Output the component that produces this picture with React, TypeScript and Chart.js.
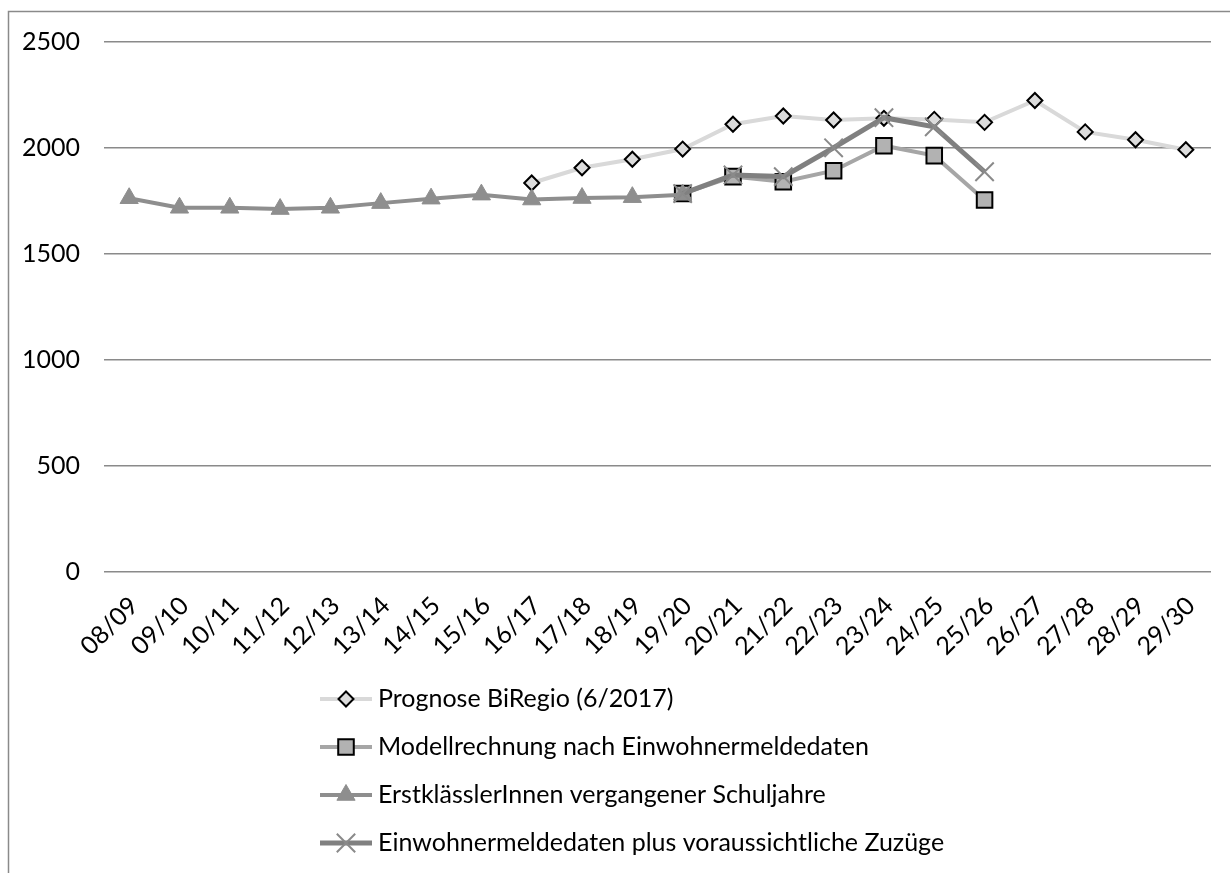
import React, { useEffect, useRef } from 'react';
import { Chart, registerables } from 'chart.js';

Chart.register(...registerables);

const schoolYears = [
  '08/09', '09/10', '10/11', '11/12', '12/13', '13/14', '14/15', '15/16', '16/17', '17/18', '18/19',
  '19/20', '20/21', '21/22', '22/23', '23/24', '24/25', '25/26', '26/27', '27/28', '28/29', '29/30',
];

const prognoseBiRegio = [
  null, null, null, null, null, null, null, null,
  1835, 1907, 1947, 1995, 2112, 2151, 2132, 2140, 2135, 2121, 2224, 2076, 2039, 1992,
];

const modellrechnung = [
  null, null, null, null, null, null, null, null, null, null, null,
  1785, 1865, 1841, 1893, 2011, 1964, 1755, null, null, null, null,
];

const erstklaessler = [
  1763, 1718, 1718, 1712, 1718, 1740, 1761, 1780, 1757, 1764, 1768, 1780,
  null, null, null, null, null, null, null, null, null, null,
];

const einwohnerPlusZuzuege = [
  null, null, null, null, null, null, null, null, null, null, null,
  1785, 1873, 1865, 2001, 2143, 2100, 1888, null, null, null, null,
];

const yTicks = [0, 500, 1000, 1500, 2000, 2500];

const seriesNames = [
  'Prognose BiRegio (6/2017)',
  'Modellrechnung nach Einwohnermeldedaten',
  'ErstklässlerInnen vergangener Schuljahre',
  'Einwohnermeldedaten plus voraussichtliche Zuzüge',
];

const FONT = 'Lato, "Open Sans", sans-serif';
const FONT_SIZE = 25;

function drawMarker(
  ctx: CanvasRenderingContext2D,
  style: string,
  x: number,
  y: number,
  r: number,
  fill: string,
  stroke: string,
  bw: number
) {
  ctx.save();
  ctx.beginPath();
  if (style === 'rectRot') {
    ctx.moveTo(x, y - r);
    ctx.lineTo(x + r, y);
    ctx.lineTo(x, y + r);
    ctx.lineTo(x - r, y);
    ctx.closePath();
  } else if (style === 'rect') {
    const s = r * Math.SQRT1_2;
    ctx.rect(x - s, y - s, 2 * s, 2 * s);
  } else if (style === 'triangle') {
    let a = 0;
    ctx.moveTo(x + Math.sin(a) * r, y - Math.cos(a) * r);
    a += (2 * Math.PI) / 3;
    ctx.lineTo(x + Math.sin(a) * r, y - Math.cos(a) * r);
    a += (2 * Math.PI) / 3;
    ctx.lineTo(x + Math.sin(a) * r, y - Math.cos(a) * r);
    ctx.closePath();
  } else if (style === 'crossRot') {
    const d = r * Math.SQRT1_2;
    ctx.moveTo(x - d, y - d);
    ctx.lineTo(x + d, y + d);
    ctx.moveTo(x - d, y + d);
    ctx.lineTo(x + d, y - d);
  }
  if (style !== 'crossRot') {
    ctx.fillStyle = fill;
    ctx.fill();
  }
  if (bw > 0) {
    ctx.lineWidth = bw;
    ctx.strokeStyle = stroke;
    ctx.stroke();
  }
  ctx.restore();
}

const framePlugin = {
  id: 'frame',
  beforeDraw(chart: any) {
    const ctx = chart.ctx as CanvasRenderingContext2D;
    ctx.save();
    ctx.fillStyle = '#ffffff';
    ctx.fillRect(0, 0, chart.width, chart.height);
    ctx.strokeStyle = '#8a8a8a';
    ctx.lineWidth = 1.5;
    ctx.beginPath();
    ctx.moveTo(8.5, chart.height + 5);
    ctx.lineTo(8.5, 11.5);
    ctx.lineTo(chart.width + 5, 11.5);
    ctx.stroke();
    ctx.restore();
  },
};

const legendPlugin = {
  id: 'seriesLegend',
  afterDraw(chart: any) {
    const ctx = chart.ctx as CanvasRenderingContext2D;
    const top = chart.chartArea.bottom + 127;
    const rowGap = 48;
    const lineStart = 320;
    const lineEnd = 372;
    const markerX = 346;
    const textX = 378;
    chart.data.datasets.forEach((ds: any, i: number) => {
      const y = top + i * rowGap;
      ctx.save();
      ctx.strokeStyle = ds.borderColor;
      ctx.lineWidth = ds.borderWidth;
      ctx.beginPath();
      ctx.moveTo(lineStart, y);
      ctx.lineTo(lineEnd, y);
      ctx.stroke();
      ctx.restore();
      drawMarker(
        ctx,
        ds.pointStyle,
        markerX,
        y,
        ds.pointRadius,
        ds.pointBackgroundColor,
        ds.pointBorderColor,
        ds.pointBorderWidth
      );
      ctx.save();
      ctx.fillStyle = '#000000';
      ctx.font = `${FONT_SIZE}px ${FONT}`;
      ctx.textAlign = 'left';
      ctx.textBaseline = 'middle';
      ctx.fillText(seriesNames[i], textX, y);
      ctx.restore();
    });
  },
};

export default function App() {
  const canvasRef = useRef<HTMLCanvasElement | null>(null);

  useEffect(() => {
    if (!canvasRef.current) return;
    Chart.defaults.font.family = FONT;
    Chart.defaults.font.size = FONT_SIZE;
    Chart.defaults.color = '#000000';

    const chart = new Chart(canvasRef.current, {
      type: 'line',
      data: {
        labels: schoolYears,
        datasets: [
          {
            label: seriesNames[0],
            data: prognoseBiRegio,
            borderColor: '#d9d9d9',
            borderWidth: 4,
            pointStyle: 'rectRot',
            pointRadius: 7.5,
            pointBackgroundColor: '#dcdcdc',
            pointBorderColor: '#000000',
            pointBorderWidth: 2,
            tension: 0,
            order: 3,
          },
          {
            label: seriesNames[1],
            data: modellrechnung,
            borderColor: '#a6a6a6',
            borderWidth: 4,
            pointStyle: 'rect',
            pointRadius: 11,
            pointBackgroundColor: '#b2b2b2',
            pointBorderColor: '#000000',
            pointBorderWidth: 2,
            tension: 0,
            order: 2,
          },
          {
            label: seriesNames[2],
            data: erstklaessler,
            borderColor: '#8e8e8e',
            borderWidth: 4,
            pointStyle: 'triangle',
            pointRadius: 10.5,
            pointBackgroundColor: '#8e8e8e',
            pointBorderColor: '#8e8e8e',
            pointBorderWidth: 1,
            tension: 0,
            order: 1,
          },
          {
            label: seriesNames[3],
            data: einwohnerPlusZuzuege,
            borderColor: '#808080',
            borderWidth: 5,
            pointStyle: 'crossRot',
            pointRadius: 13,
            pointBackgroundColor: '#8a8a8a',
            pointBorderColor: '#8a8a8a',
            pointBorderWidth: 2,
            tension: 0,
            order: 0,
          },
        ],
      },
      options: {
        animation: false,
        responsive: false,
        maintainAspectRatio: false,
        layout: { padding: { left: 0, top: 42, right: 19, bottom: 201 } },
        plugins: {
          legend: { display: false },
          tooltip: { enabled: false },
        },
        scales: {
          x: {
            type: 'category',
            offset: true,
            grid: { display: false, drawTicks: false },
            border: { display: false },
            ticks: {
              autoSkip: false,
              minRotation: 45,
              maxRotation: 45,
              padding: 19,
              labelOffset: 5,
              color: '#000000',
              font: { family: FONT, size: FONT_SIZE },
            },
            afterFit: (scale: any) => {
              scale.height = 100;
            },
          },
          y: {
            min: 0,
            max: 2500,
            grid: { color: '#8a8a8a', lineWidth: 1.5, drawTicks: false },
            border: { display: false },
            ticks: {
              stepSize: 500,
              padding: 24,
              color: '#000000',
              font: { family: FONT, size: FONT_SIZE },
              callback: (value: any) => String(value),
            },
            afterBuildTicks: (scale: any) => {
              scale.ticks = yTicks.map((v) => ({ value: v }));
            },
            afterFit: (scale: any) => {
              scale.width = 104;
            },
          },
        },
      },
      plugins: [framePlugin, legendPlugin],
    });

    return () => {
      chart.destroy();
    };
  }, []);

  return (
    <div
      style={{
        position: 'fixed',
        left: 0,
        top: 0,
        width: 1230,
        height: 873,
        overflow: 'hidden',
        background: '#ffffff',
      }}
    >
      <canvas ref={canvasRef} width={1230} height={873} style={{ width: 1230, height: 873, display: 'block' }} />
    </div>
  );
}
